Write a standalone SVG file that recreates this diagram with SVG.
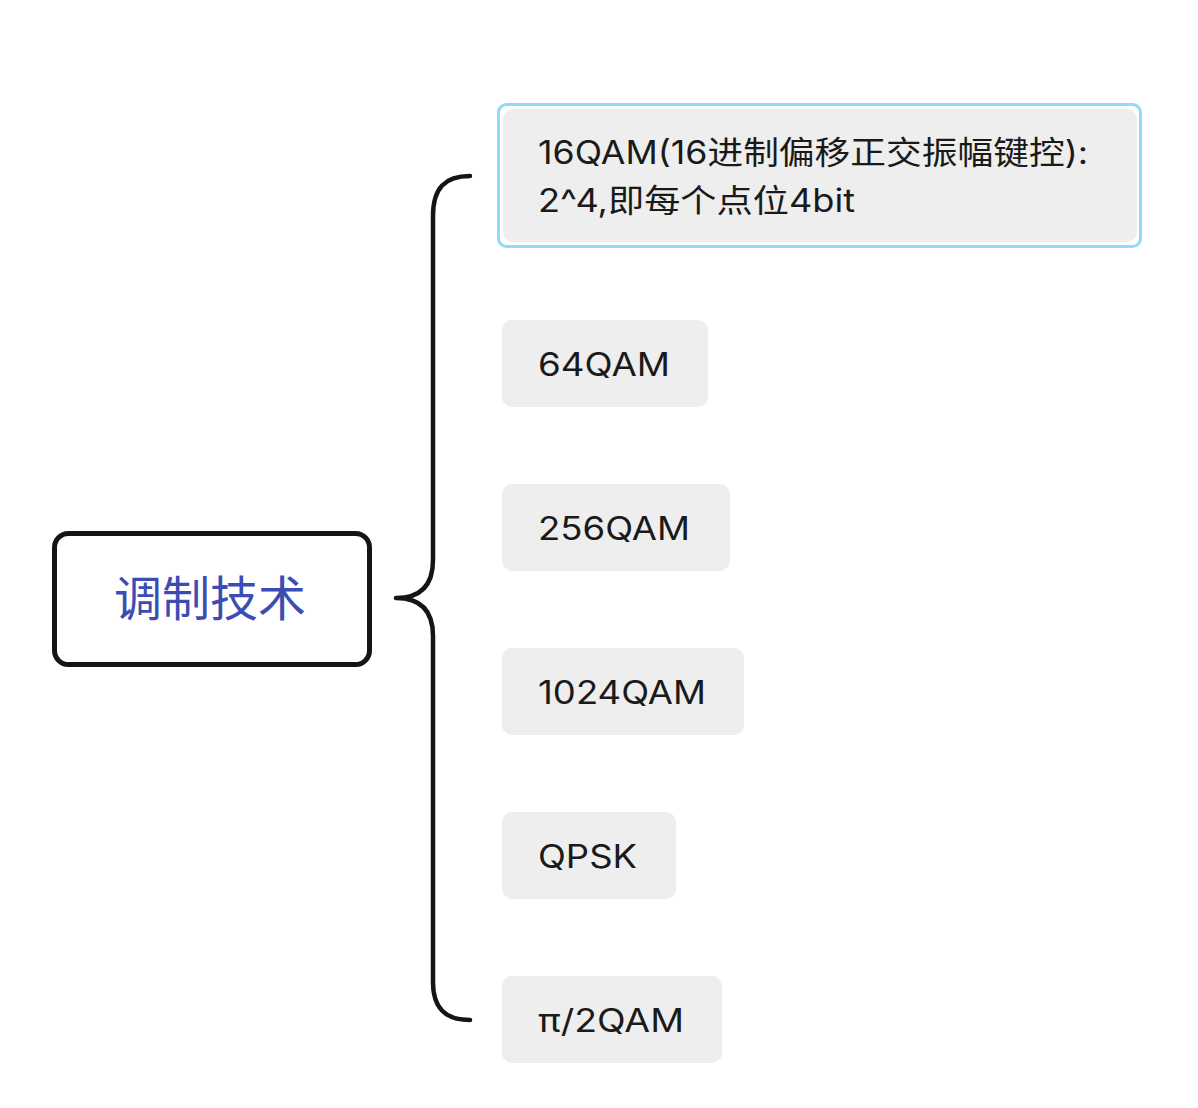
<svg xmlns="http://www.w3.org/2000/svg" width="1198" height="1108" viewBox="0 0 1198 1108">
<style>
.leaf{fill:#eeeeee;}
.lt{font-family:"Inter","Open Sans","Noto Sans CJK SC",sans-serif;font-size:32px;fill:#1a1a1a;}
.root{fill:#ffffff;stroke:#151515;stroke-width:5;}
.rt{font-family:"Noto Sans CJK SC",sans-serif;font-size:48px;fill:#3b4db3;}
.conn{fill:none;stroke:#151515;stroke-width:4.5;stroke-linecap:round;stroke-linejoin:round;}
</style>
<rect width="1198" height="1108" fill="#ffffff"/>
<g id="connectors">
<path class="conn" d="M470,176 C445,176 433,188 433,216 L433,560 C433,586 420,598 396,598 C420,598 433,610 433,636 L433,982 C433,1008 445,1020 470,1020"/>
</g>
<g id="root">
<rect class="root" x="54.5" y="533.5" width="315" height="131" rx="14"/>
<text class="rt" x="210" y="616" text-anchor="middle">调制技术</text>
</g>
<g id="n16qam">
<rect x="498.5" y="104.5" width="642" height="142" rx="8" fill="none" stroke="#92daf9" stroke-width="3"/>
<rect class="leaf" x="503" y="109" width="634" height="133" rx="10"/>
<text class="lt" x="538" y="164" textLength="550" lengthAdjust="spacingAndGlyphs">16QAM(16进制偏移正交振幅键控):</text>
<text class="lt" x="538" y="212" textLength="317" lengthAdjust="spacingAndGlyphs">2^4,即每个点位4bit</text>
</g>
<g id="n64qam">
<rect class="leaf" x="502" y="320" width="206" height="87" rx="10"/>
<text class="lt" x="538" y="376" textLength="132" lengthAdjust="spacingAndGlyphs">64QAM</text>
</g>
<g id="n256qam">
<rect class="leaf" x="502" y="484" width="228" height="87" rx="10"/>
<text class="lt" x="538" y="540" textLength="152" lengthAdjust="spacingAndGlyphs">256QAM</text>
</g>
<g id="n1024qam">
<rect class="leaf" x="502" y="648" width="242" height="87" rx="10"/>
<text class="lt" x="538" y="704" textLength="168" lengthAdjust="spacingAndGlyphs">1024QAM</text>
</g>
<g id="nqpsk">
<rect class="leaf" x="502" y="812" width="174" height="87" rx="10"/>
<text class="lt" x="538" y="868" textLength="99" lengthAdjust="spacingAndGlyphs">QPSK</text>
</g>
<g id="npi2qam">
<rect class="leaf" x="502" y="976" width="220" height="87" rx="10"/>
<text class="lt" x="538" y="1032" textLength="146" lengthAdjust="spacingAndGlyphs">π/2QAM</text>
</g>
</svg>
